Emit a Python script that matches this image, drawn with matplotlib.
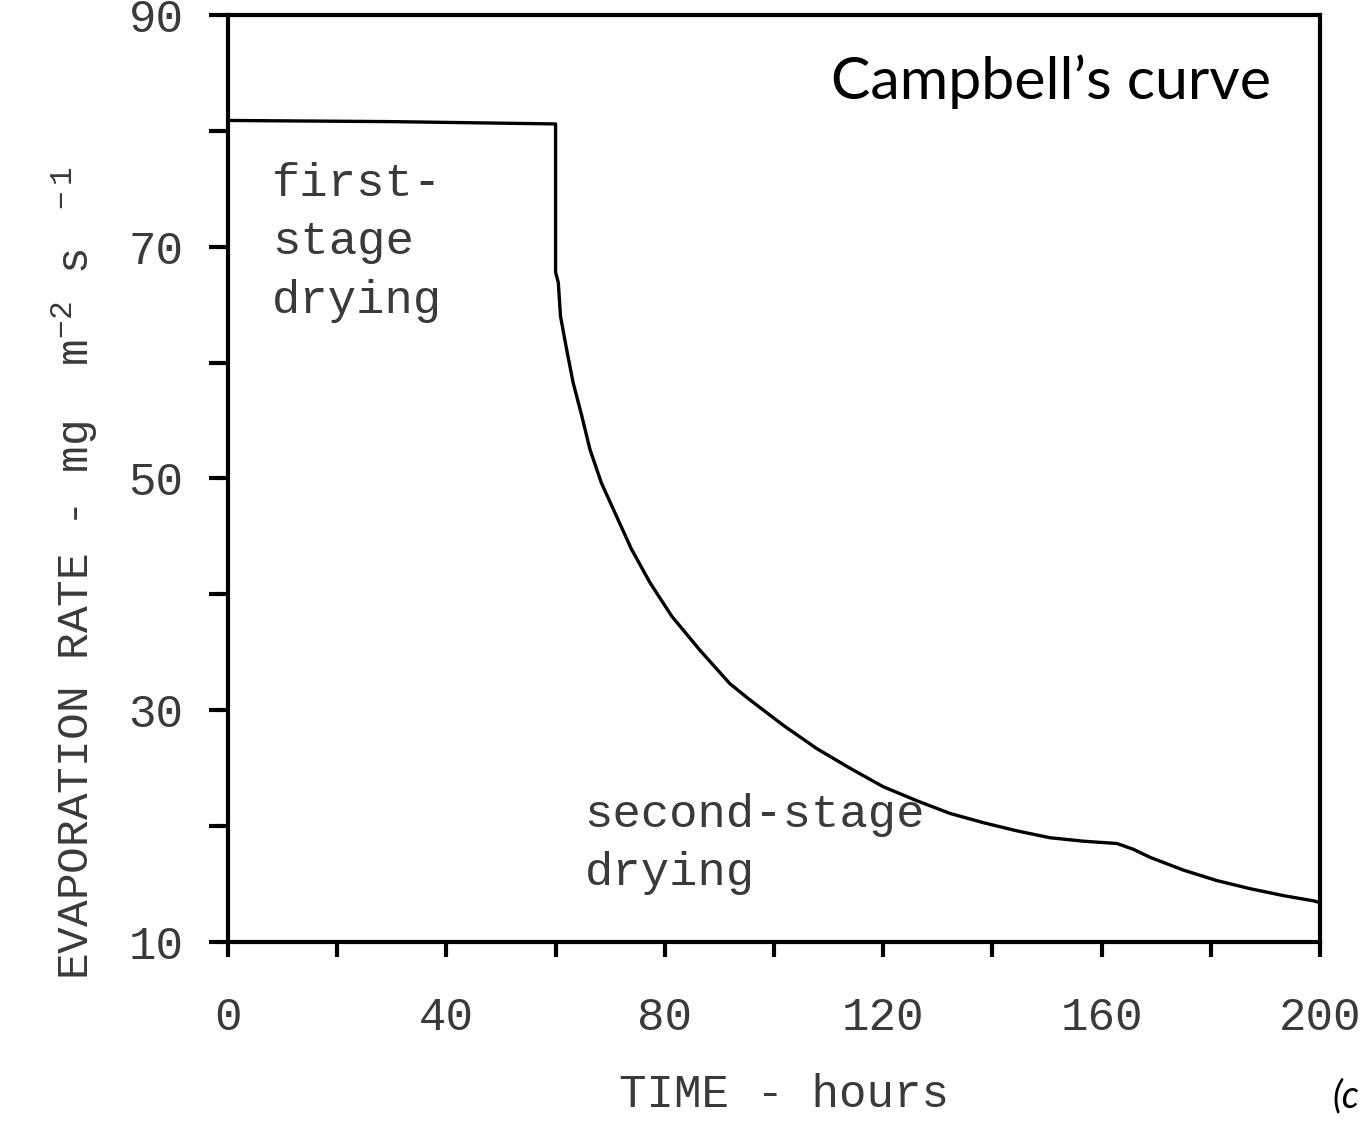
import numpy as np
import matplotlib.pyplot as plt

plt.rcParams['mathtext.fontset'] = 'custom'
plt.rcParams['mathtext.rm'] = 'Liberation Mono'
plt.rcParams['mathtext.default'] = 'regular'

# values
hours = [0, 30, 60, 60, 60.5, 60.9, 62.0, 63.2, 64.8, 66.3, 68.4, 71.2, 73.9,
         77.3, 81.3, 86.4, 91.9, 95.3, 101.7, 107.8, 113.9, 120.0, 126.1,
         132.2, 138.3, 144.4, 150.5, 156.6, 162.8, 165.8, 168.9, 175.0,
         181.1, 187.2, 193.3, 198.8, 200]
rate = [80.9, 80.8, 80.6, 67.8, 66.9, 64.0, 61.2, 58.3, 55.4, 52.5, 49.6, 46.7,
        43.9, 41.0, 38.1, 35.2, 32.3, 31.0, 28.7, 26.7, 25.0, 23.4, 22.2,
        21.1, 20.3, 19.6, 19.0, 18.7, 18.5, 18.0, 17.3, 16.2,
        15.3, 14.6, 14.0, 13.55, 13.4]

x_ticks = [0, 20, 40, 60, 80, 100, 120, 140, 160, 180, 200]
x_labels = ['0', '', '40', '', '80', '', '120', '', '160', '', '200']
y_ticks = [10, 20, 30, 40, 50, 60, 70, 80, 90]
y_labels = ['10', '', '30', '', '50', '', '70', '', '90']

mono = 'Liberation Mono'
grey = '#3a3a3a'

fig = plt.figure(figsize=(13.61, 11.21), dpi=100)
ax = fig.add_axes([0.1675, 0.1597, 0.8024, 0.8269])

ax.plot(hours, rate, color='black', lw=2.4, solid_joinstyle='round')

ax.set_xlim(0, 200)
ax.set_ylim(10, 90)
ax.set_xticks(x_ticks)
ax.set_xticklabels(x_labels, fontfamily=mono, fontsize=33, color=grey)
ax.set_yticks(y_ticks)
ax.set_yticklabels(y_labels, fontfamily=mono, fontsize=33, color=grey)
ax.tick_params(axis='x', direction='out', length=11, width=3, pad=28)
ax.tick_params(axis='y', direction='out', length=14, width=3, pad=18)
for s in ax.spines.values():
    s.set_linewidth(3)

ax.set_xlabel('TIME - hours', fontfamily=mono, fontsize=33, color=grey)
ax.xaxis.label.set_va('center')
ax.xaxis.set_label_coords(0.509, -0.165)
ax.set_ylabel('EVAPORATION RATE - mg  m$^{-2}$ s$^{\\quad -1}$', fontfamily=mono,
              fontsize=32, color=grey)
ax.yaxis.label.set_va('center')
ax.yaxis.set_label_coords(-0.14, 0.398)

ax.text(8, 77.3, 'first-\nstage\ndrying', fontfamily=mono, fontsize=34,
        color=grey, ha='left', va='top', linespacing=1.42)
ax.text(65.3, 22.9, 'second-stage\ndrying', fontfamily=mono, fontsize=34,
        color=grey, ha='left', va='top', linespacing=1.42)

ax.text(0.955, 0.958, 'Campbell\u2019s curve', transform=ax.transAxes,
        fontfamily='Lato', fontsize=42.5, color='black', ha='right', va='top')
fig.text(0.999, 0.006, '(c', fontfamily='Lato', fontstyle='italic',
         fontsize=27, color='black', ha='right', va='bottom')

plt.savefig('out.png', dpi=100)
